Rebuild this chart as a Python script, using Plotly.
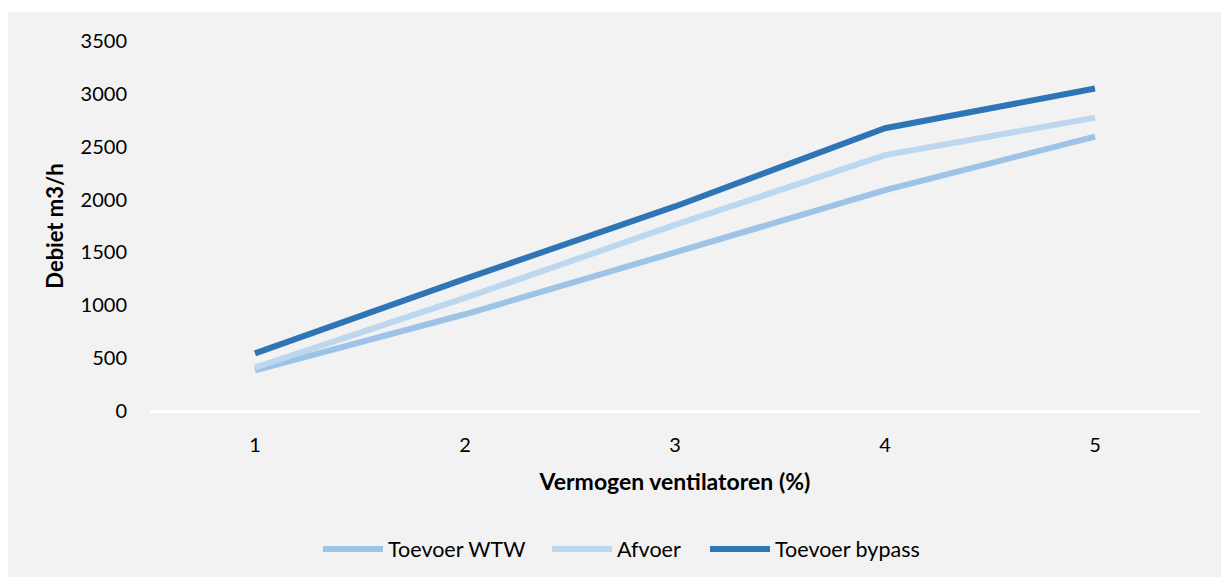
import plotly.graph_objects as go

categories = ["1", "2", "3", "4", "5"]
toevoer_wtw = [385, 915, 1500, 2090, 2595]
afvoer = [410, 1070, 1760, 2420, 2775]
toevoer_bypass = [545, 1250, 1935, 2675, 3050]
series_names = ["Toevoer WTW", "Afvoer", "Toevoer bypass"]
y_ticks = [0, 500, 1000, 1500, 2000, 2500, 3000, 3500]

colors = ["#9dc3e6", "#bdd7ee", "#2e75b6"]
W, H = 1229, 577
L, R, T, B = 142, 37, 33, 174
FONT = "Lato"
pw = W - L - R
ph = H - T - B

# left edge (figure px) of each legend entry
legend_left_px = [310, 539, 697]
legend_ids = ["legend", "legend2", "legend3"]

fig = go.Figure()
for name, vals, c, lid in zip(series_names, [toevoer_wtw, afvoer, toevoer_bypass], colors, legend_ids):
    fig.add_trace(go.Scatter(x=categories, y=vals, name=name, mode="lines",
                             line=dict(color=c, width=6), legend=lid))

# thin white strip at the top of the figure
fig.add_shape(type="rect", xref="paper", yref="paper",
              x0=-L / pw, x1=(W - L) / pw, y0=1 + (T - 4) / ph, y1=1 + T / ph,
              fillcolor="white", line_width=0, layer="below")

legend_common = dict(orientation="h", xanchor="left", y=-0.373, yanchor="middle",
                     font=dict(size=21.5, family=FONT), itemwidth=60,
                     bgcolor="rgba(0,0,0,0)", borderwidth=0)
legends = {}
for lid, px in zip(legend_ids, legend_left_px):
    legends[lid] = dict(legend_common, x=(px - L) / pw)

fig.update_layout(
    width=W, height=H,
    margin=dict(l=L, r=R, t=T, b=B, autoexpand=False),
    paper_bgcolor="#f2f2f2", plot_bgcolor="#f2f2f2",
    font=dict(family=FONT, size=20, color="#000000"),
    showlegend=True,
    **legends,
)
fig.update_xaxes(type="category", range=[-0.5, 4.5], showgrid=False, zeroline=False,
                 showline=False, ticks="", ticklabelstandoff=20,
                 tickfont=dict(size=20, family=FONT),
                 title=dict(text="<b>Vermogen ventilatoren (%)</b>", standoff=18,
                            font=dict(size=23, family=FONT)))
fig.update_yaxes(range=[0, 3500], tickvals=y_ticks, showgrid=True, gridcolor="#f6f6f6",
                 gridwidth=1, zeroline=True, zerolinecolor="#ffffff", zerolinewidth=2.5,
                 showline=False, ticks="", ticklabelstandoff=22,
                 tickfont=dict(size=20, family=FONT),
                 title=dict(text="<b>Debiet m3/h</b>", standoff=10,
                            font=dict(size=22, family=FONT)))

fig.write_html("out.html")
